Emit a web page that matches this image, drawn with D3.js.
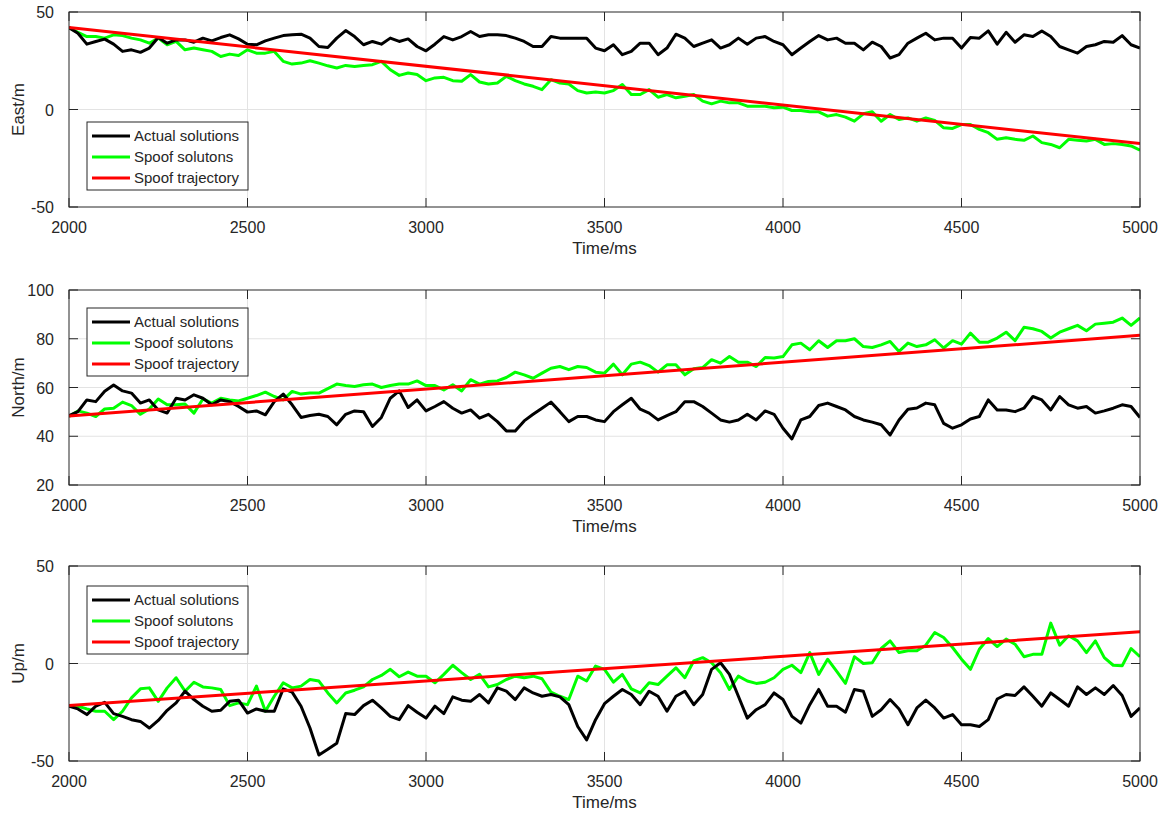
<!DOCTYPE html>
<html>
<head>
<meta charset="utf-8">
<script src="https://cdn.jsdelivr.net/npm/d3@7"></script>
<style>
  body { margin: 0; background: #fff; }
  text { font-family: Arial, "Liberation Sans", sans-serif; fill: #262626; }
</style>
</head>
<body>
<svg id="chart" width="1166" height="814"></svg>
<script>
// sample times (ms), one every 25 ms
const timeMs = d3.range(2000, 5001, 25);
const timeTicks = [2000, 2500, 3000, 3500, 4000, 4500, 5000];
const seriesNames = ['Actual solutions', 'Spoof solutons', 'Spoof trajectory'];

const eastActual = [
  42.0, 39.1, 33.5, 34.9, 36.1, 33.5, 29.8, 30.6, 29.3, 31.5, 36.9, 34.0, 35.7, 35.7, 34.5, 36.6, 35.2, 36.9, 38.3, 36.2, 33.5, 33.2, 35.2, 36.6, 37.9, 38.3, 38.6, 36.6, 32.3, 31.8,
  36.6, 40.5, 37.4, 33.2, 34.9, 33.5, 36.6, 34.9, 36.2, 32.3, 30.1, 33.5, 37.4, 35.7, 37.4, 40.0, 37.4, 38.3, 38.3, 37.9, 36.6, 34.9, 32.3, 32.3, 37.4, 36.6, 36.6, 36.6, 36.6, 31.5,
  30.1, 33.2, 28.1, 29.8, 34.0, 34.0, 28.1, 31.5, 38.6, 36.6, 32.3, 34.0, 35.7, 31.5, 33.2, 36.6, 33.5, 36.6, 37.4, 34.9, 33.2, 28.1, 31.5, 34.9, 37.9, 35.7, 36.6, 34.0, 34.0, 30.6,
  34.5, 32.3, 26.4, 28.1, 34.0, 36.6, 39.1, 35.7, 36.6, 36.6, 31.5, 36.9, 36.6, 40.3, 33.5, 39.6, 34.5, 38.3, 37.4, 40.3, 37.4, 32.3, 30.6, 28.9, 32.3, 33.2, 34.9, 34.5, 37.9, 33.2, 31.5
];
const eastSpoof = [
  42.0, 39.6, 37.4, 37.4, 36.6, 38.3, 37.9, 36.6, 35.7, 34.0, 36.6, 33.2, 34.9, 30.6, 31.5, 30.6, 29.8, 27.2, 28.4, 27.7, 30.6, 28.9, 28.9, 29.8, 24.7, 23.3, 23.8, 25.0, 23.8, 22.4,
  21.3, 22.6, 22.1, 22.6, 23.0, 24.7, 20.4, 17.5, 18.7, 17.9, 14.8, 16.2, 16.5, 14.8, 14.5, 17.9, 14.1, 13.1, 13.6, 17.0, 14.8, 13.1, 11.9, 10.2, 15.3, 13.6, 13.1, 9.7, 8.5, 9.0,
  8.5, 9.7, 12.8, 7.7, 7.7, 10.2, 6.3, 7.7, 6.0, 6.8, 7.7, 4.3, 2.9, 4.3, 3.4, 3.4, 1.7, 1.7, 1.7, 0.9, 1.2, -0.5, -0.5, -1.2, -1.2, -3.4, -2.6, -3.9, -6.0, -2.2,
  -1.2, -6.0, -2.6, -5.1, -4.3, -6.0, -4.3, -5.6, -9.4, -9.7, -7.7, -7.7, -10.2, -11.9, -15.3, -14.5, -15.3, -15.8, -13.6, -17.0, -17.9, -19.6, -15.3, -15.8, -16.2, -15.3, -17.9, -17.5, -17.9, -18.7, -20.9
];
const eastTraj = [[2000, 42.0], [5000, -17.5]];

const northActual = [
  48.4, 50.1, 54.9, 54.2, 58.5, 61.0, 58.6, 57.7, 53.6, 54.9, 50.8, 49.5, 55.6, 54.9, 57.0, 55.6, 52.9, 54.9, 54.2, 52.2, 49.9, 50.4, 48.8, 54.2, 57.3, 52.9, 47.7, 48.5, 49.0, 48.1,
  44.7, 49.0, 50.4, 50.1, 44.0, 47.7, 55.6, 58.6, 51.8, 54.9, 50.4, 52.2, 54.2, 51.5, 49.5, 50.8, 47.4, 49.0, 46.0, 42.2, 42.2, 46.3, 49.0, 51.5, 54.0, 50.1, 46.0, 48.1, 48.1, 46.7,
  46.0, 50.1, 52.9, 55.6, 51.1, 49.5, 46.7, 48.5, 50.1, 54.2, 54.2, 52.2, 49.5, 46.7, 45.8, 46.7, 49.0, 46.7, 50.4, 49.0, 43.3, 38.9, 46.7, 48.1, 52.6, 53.6, 52.2, 50.8, 48.1, 46.7,
  45.8, 44.7, 40.5, 46.7, 51.1, 51.6, 53.6, 52.9, 45.3, 43.3, 44.7, 47.1, 48.1, 54.9, 50.8, 50.8, 50.1, 51.5, 56.3, 54.9, 50.8, 56.3, 52.9, 51.5, 52.2, 49.5, 50.4, 51.5, 52.9, 52.2, 47.7
];
const northSpoof = [
  48.1, 50.4, 49.5, 48.1, 51.2, 51.5, 54.0, 52.6, 49.0, 51.2, 55.3, 52.9, 52.9, 53.2, 49.5, 55.3, 53.6, 55.6, 54.9, 54.5, 55.6, 56.7, 58.1, 56.3, 54.9, 58.4, 57.3, 57.7, 57.7, 59.5,
  61.4, 60.8, 60.4, 61.1, 61.4, 60.0, 60.8, 61.4, 61.4, 62.7, 60.8, 60.8, 59.0, 61.1, 58.6, 63.2, 61.4, 62.5, 62.7, 64.1, 66.3, 65.2, 63.8, 65.9, 67.9, 68.6, 67.3, 68.6, 68.2, 66.3,
  65.9, 69.6, 65.2, 69.6, 70.4, 69.0, 66.3, 69.3, 69.3, 65.2, 67.7, 68.2, 71.4, 70.0, 72.7, 70.4, 70.4, 68.6, 72.3, 72.1, 72.7, 77.5, 78.2, 75.5, 79.2, 76.4, 79.2, 79.2, 80.0, 76.8,
  76.4, 77.5, 78.9, 74.8, 78.2, 76.8, 77.5, 79.6, 76.2, 79.2, 77.8, 82.3, 78.6, 78.6, 80.3, 82.7, 79.2, 84.7, 84.1, 83.0, 80.3, 82.7, 84.1, 85.5, 83.3, 86.0, 86.4, 86.8, 88.5, 85.5, 88.5
];
const northTraj = [[2000, 48.3], [5000, 81.4]];

const upActual = [
  -21.9, -23.3, -26.2, -21.9, -19.9, -25.7, -27.1, -28.8, -29.7, -33.1, -29.2, -24.0, -20.2, -14.2, -18.5, -21.9, -24.5, -24.0, -19.4, -18.8, -25.4, -23.3, -24.5, -24.5, -13.0, -14.7, -21.9, -33.1, -46.9, -44.0,
  -40.9, -25.7, -26.2, -21.6, -18.8, -22.8, -27.1, -28.8, -21.6, -25.0, -28.0, -21.9, -25.7, -17.1, -18.8, -19.4, -15.9, -20.2, -12.5, -14.2, -18.5, -12.5, -15.1, -16.8, -15.9, -17.1, -21.1, -32.3, -39.2, -28.8,
  -20.6, -16.8, -13.3, -15.9, -21.1, -14.2, -16.8, -24.5, -16.8, -14.2, -21.1, -15.9, -3.0, 0.4, -5.6, -16.8, -28.0, -23.7, -21.1, -15.1, -18.5, -27.1, -30.6, -21.1, -13.3, -21.9, -21.9, -25.0, -13.3, -14.2,
  -27.1, -23.7, -18.5, -23.3, -31.4, -22.8, -18.8, -22.8, -28.0, -26.2, -31.4, -31.4, -32.3, -28.8, -18.2, -15.9, -16.4, -12.0, -16.8, -21.9, -15.1, -18.5, -21.9, -12.0, -15.9, -12.5, -15.9, -11.3, -16.4, -27.1, -22.8
];
const upSpoof = [
  -21.9, -21.9, -23.3, -24.5, -24.5, -28.8, -24.5, -17.6, -13.0, -12.5, -19.4, -12.5, -7.3, -14.2, -9.6, -12.0, -12.5, -13.3, -21.6, -20.2, -21.1, -11.6, -24.5, -16.8, -9.9, -12.5, -11.6, -8.2, -9.0, -15.1,
  -20.2, -15.1, -13.7, -12.0, -8.2, -6.1, -3.0, -6.8, -4.4, -6.5, -6.5, -9.9, -5.6, -0.9, -4.7, -8.2, -5.6, -12.0, -10.8, -8.2, -6.5, -7.3, -6.5, -7.8, -14.7, -16.8, -18.5, -6.5, -9.0, -1.3,
  -3.0, -9.6, -5.6, -13.0, -15.1, -9.9, -10.8, -6.5, -2.2, -7.3, 1.3, 3.0, 0.4, -4.7, -13.3, -6.5, -9.0, -10.2, -9.6, -7.3, -3.0, -0.9, -4.7, 5.6, -5.6, 2.2, -3.9, -10.2, 3.5, 0.0,
  0.4, 7.7, 11.6, 5.6, 6.5, 6.5, 9.4, 15.9, 13.3, 8.2, 2.2, -3.0, 7.3, 12.8, 8.7, 12.5, 9.9, 3.5, 4.7, 4.7, 20.7, 9.4, 14.2, 11.6, 5.6, 11.6, 3.0, -0.9, -1.2, 7.7, 3.5
];
const upTraj = [[2000, -21.6], [5000, 16.3]];

const eastTicks = [-50, 0, 50];
const northTicks = [20, 40, 60, 80, 100];
const upTicks = [-50, 0, 50];

const panels = [
  { label: 'East/m', top: 12, domain: [-50, 50], ticks: eastTicks, actual: eastActual, spoof: eastSpoof, traj: eastTraj, legendY: 122 },
  { label: 'North/m', top: 290, domain: [20, 100], ticks: northTicks, actual: northActual, spoof: northSpoof, traj: northTraj, legendY: 308 },
  { label: 'Up/m', top: 566, domain: [-50, 50], ticks: upTicks, actual: upActual, spoof: upSpoof, traj: upTraj, legendY: 586 }
];

const colors = ['#000000', '#00ff00', '#ff0000'];
const axisColor = '#262626';
const gridColor = '#e3e3e3';
const left = 69, right = 1140, plotH = 195;
const tickLen = 9;

const svg = d3.select('#chart');

const x = d3.scaleLinear().domain([2000, 5000]).range([left, right]);

panels.forEach(p => {
    const y = d3.scaleLinear().domain(p.domain).range([p.top + plotH, p.top]);
    const g = svg.append('g');

    // grid
    g.selectAll('line.vgrid').data(timeTicks.slice(1, -1)).enter().append('line')
        .attr('x1', d => x(d)).attr('x2', d => x(d))
        .attr('y1', p.top).attr('y2', p.top + plotH)
        .attr('stroke', gridColor).attr('stroke-width', 1);
    g.selectAll('line.hgrid').data(p.ticks.slice(1, -1)).enter().append('line')
        .attr('x1', left).attr('x2', right)
        .attr('y1', d => y(d)).attr('y2', d => y(d))
        .attr('stroke', gridColor).attr('stroke-width', 1);

    // series
    const clipId = 'clip' + p.top;
    g.append('clipPath').attr('id', clipId).append('rect')
        .attr('x', left).attr('y', p.top).attr('width', right - left).attr('height', plotH);

    const line = d3.line().x(d => x(d[0])).y(d => y(d[1]));
    const plots = [
        timeMs.map((t, i) => [t, p.actual[i]]),
        timeMs.map((t, i) => [t, p.spoof[i]]),
        p.traj
    ];
    [1, 0, 2].forEach(k => {
        g.append('path')
            .datum(plots[k])
            .attr('d', line)
            .attr('fill', 'none')
            .attr('stroke', colors[k])
            .attr('stroke-width', 3)
            .attr('stroke-linejoin', 'round')
            .attr('clip-path', `url(#${clipId})`);
    });

    // box + inward ticks
    g.append('rect')
        .attr('x', left).attr('y', p.top).attr('width', right - left).attr('height', plotH)
        .attr('fill', 'none').attr('stroke', axisColor).attr('stroke-width', 1);

    timeTicks.forEach(t => {
        g.append('line').attr('x1', x(t)).attr('x2', x(t))
            .attr('y1', p.top + plotH).attr('y2', p.top + plotH - tickLen)
            .attr('stroke', axisColor);
        g.append('line').attr('x1', x(t)).attr('x2', x(t))
            .attr('y1', p.top).attr('y2', p.top + tickLen)
            .attr('stroke', axisColor);
        g.append('text').attr('x', x(t)).attr('y', p.top + plotH + 26)
            .attr('text-anchor', 'middle').attr('font-size', 16).text(t);
    });
    p.ticks.forEach(v => {
        g.append('line').attr('x1', left).attr('x2', left + tickLen)
            .attr('y1', y(v)).attr('y2', y(v)).attr('stroke', axisColor);
        g.append('line').attr('x1', right).attr('x2', right - tickLen)
            .attr('y1', y(v)).attr('y2', y(v)).attr('stroke', axisColor);
        g.append('text').attr('x', left - 15).attr('y', y(v) + 6)
            .attr('text-anchor', 'end').attr('font-size', 16).text(v);
    });

    g.append('text')
        .attr('x', (left + right) / 2).attr('y', p.top + plotH + 47)
        .attr('text-anchor', 'middle').attr('font-size', 17).text('Time/ms');
    g.append('text')
        .attr('transform', `translate(24,${p.top + plotH / 2}) rotate(-90)`)
        .attr('text-anchor', 'middle').attr('font-size', 17).text(p.label);

    // legend
    const leg = g.append('g').attr('transform', `translate(87,${p.legendY})`);
    leg.append('rect').attr('width', 161).attr('height', 68)
        .attr('fill', '#fff').attr('stroke', axisColor).attr('stroke-width', 1);
    seriesNames.forEach((name, i) => {
        const ly = 14 + i * 21;
        leg.append('line').attr('x1', 5).attr('x2', 43).attr('y1', ly).attr('y2', ly)
            .attr('stroke', colors[i]).attr('stroke-width', 3);
        leg.append('text').attr('x', 47).attr('y', ly + 5)
            .attr('font-size', 15).text(name);
    });
});
</script>
</body>
</html>
